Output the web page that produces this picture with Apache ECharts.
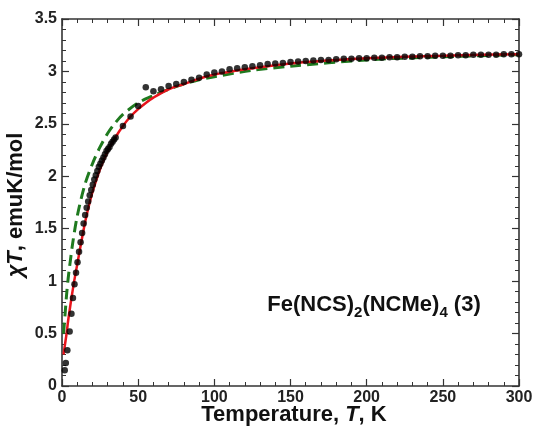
<!DOCTYPE html>
<html>
<head>
<meta charset="utf-8">
<script src="https://cdn.jsdelivr.net/npm/echarts@6/dist/echarts.min.js"></script>
<style>
html,body{margin:0;padding:0;background:#fff;}
#c{width:537px;height:427px;}
</style>
</head>
<body>
<div id="c"></div>
<script>
// Measured data points (Temperature K, chiT emuK/mol)
const dataT = [1.8,2.5,3.5,5,6.2,7.2,8.2,9.2,10.2,11.2,12.2,13.2,14.2,15.2,16.2,17.2,18.2,19.2,20.2,21.2,22.2,23.2,24.2,25.2,26.2,27.2,28.2,29.2,30.2,31.2,32.2,33.2,34.2,35.2,
  40,45,50,55,60,65,70,75,80,85,90,95,100,105,110,115,120,125,130,135,140,145,150,155,160,165,170,175,180,185,190,195,200,205,210,215,220,225,230,235,240,245,250,255,260,265,270,275,280,285,290,295,300];
const dataChiT = [0.15,0.22,0.34,0.52,0.69,0.84,0.97,1.08,1.18,1.28,1.37,1.46,1.55,1.63,1.70,1.76,1.82,1.87,1.92,1.97,2.01,2.05,2.09,2.12,2.15,2.18,2.21,2.24,2.26,2.28,2.31,2.33,2.35,2.37,
  2.48,2.57,2.67,2.85,2.81,2.83,2.86,2.88,2.90,2.92,2.94,2.97,2.99,3.00,3.02,3.03,3.04,3.05,3.06,3.07,3.075,3.08,3.09,3.095,3.10,3.105,3.11,3.11,3.115,3.12,3.12,3.125,3.125,3.13,3.13,3.135,3.135,3.14,3.14,3.145,3.145,3.15,3.15,3.15,3.155,3.155,3.16,3.16,3.16,3.16,3.165,3.165,3.165];

// Red solid fit
const fitRedT =   [1,2,3,4,5,6,8,10,12,15,18,20,25,30,35,40,45,50,55,60,70,80,90,100,120,140,160,180,200,225,250,275,300];
const fitRedChi = [0.30,0.40,0.50,0.62,0.72,0.82,1.00,1.16,1.32,1.55,1.74,1.85,2.07,2.24,2.37,2.48,2.57,2.64,2.70,2.75,2.83,2.88,2.93,2.97,3.02,3.06,3.09,3.11,3.125,3.14,3.15,3.16,3.165];

// Green dashed fit
const fitGreenT =   [1,2,3,4,5,7,10,15,20,25,30,35,40,50,60,70,80,90,100,125,150,200,250,300];
const fitGreenChi = [0.50,0.68,0.87,1.02,1.14,1.36,1.62,1.92,2.12,2.28,2.41,2.51,2.59,2.70,2.77,2.83,2.88,2.92,2.95,3.01,3.05,3.11,3.14,3.16];

const xTicks = {min:0, max:300, interval:50};
const yTicks = {min:0, max:3.5, interval:0.5};

const FONT = "'Liberation Sans', Arial, sans-serif";
const axisColor = '#333';

function zip(a,b){ return a.map((v,i)=>[v,b[i]]); }

const chart = echarts.init(document.getElementById('c'), null, {renderer:'canvas'});

function xAx(pos, showLabel){
  return {
    type:'value', position:pos, min:xTicks.min, max:xTicks.max, interval:xTicks.interval,
    axisLine:{show:true, onZero:false, lineStyle:{color:axisColor, width:1.6}},
    axisTick:{show:true, inside:true, length:7, lineStyle:{color:axisColor, width:1.2}},
    minorTick:{show:true, splitNumber:5, length:4, lineStyle:{color:axisColor, width:1}},
    splitLine:{show:false},
    axisLabel:{show:showLabel, color:'#222', fontFamily:FONT, fontWeight:'bold', fontSize:16, margin:4},
  };
}
function yAx(pos, showLabel){
  return {
    type:'value', position:pos, min:yTicks.min, max:yTicks.max, interval:yTicks.interval,
    axisLine:{show:true, onZero:false, lineStyle:{color:axisColor, width:1.6}},
    axisTick:{show:true, inside:true, length:7, lineStyle:{color:axisColor, width:1.2}},
    minorTick:{show:true, splitNumber:5, length:4, lineStyle:{color:axisColor, width:1}},
    splitLine:{show:false},
    axisLabel:{show:showLabel, color:'#222', fontFamily:FONT, fontWeight:'bold', fontSize:16, margin:5},
  };
}

chart.setOption({
  animation:false,
  backgroundColor:'#fff',
  grid:{left:62, right:18, top:19, bottom:41, containLabel:false},
  xAxis:[xAx('bottom', true), xAx('top', false)],
  yAxis:[yAx('left', true), yAx('right', false)],
  series:[
    {type:'line', xAxisIndex:0, yAxisIndex:0, data:zip(fitGreenT, fitGreenChi), showSymbol:false, smooth:0.3,
     lineStyle:{color:'#1f7a1f', width:3, type:[11,6]}, z:2},
    {type:'line', xAxisIndex:0, yAxisIndex:0, data:zip(fitRedT, fitRedChi), showSymbol:false, smooth:0.3,
     lineStyle:{color:'#e8141c', width:2.5}, z:3},
    {type:'scatter', xAxisIndex:0, yAxisIndex:0, data:zip(dataT, dataChiT), symbol:'circle', symbolSize:6.5,
     itemStyle:{color:'#000'}, z:4}
  ],
  graphic:[
    {type:'text', x:294, y:415, style:{
      text:'{n|Temperature, }{i|T}{n|, K}',
      x:0, y:0, align:'center', verticalAlign:'middle',
      rich:{
        n:{fontFamily:FONT, fontWeight:'bold', fontSize:22, fill:'#111'},
        i:{fontFamily:FONT, fontWeight:'bold', fontStyle:'italic', fontSize:22, fill:'#111'}
      }
    }},
    {type:'text', x:16, y:205, rotation:Math.PI/2, style:{
      text:'{i|χT}{n|, emuK/mol}',
      x:0, y:0, align:'center', verticalAlign:'middle',
      rich:{
        n:{fontFamily:FONT, fontWeight:'bold', fontSize:22, fill:'#111'},
        i:{fontFamily:FONT, fontWeight:'bold', fontStyle:'italic', fontSize:22, fill:'#111'}
      }
    }},
    {type:'text', x:374, y:305, style:{
      text:'{a|Fe(NCS)}{s|2}{a|(NCMe)}{s|4}{a| (3)}',
      x:0, y:0, align:'center', verticalAlign:'middle',
      rich:{
        a:{fontFamily:FONT, fontWeight:'bold', fontSize:22, fill:'#111'},
        s:{fontFamily:FONT, fontWeight:'bold', fontSize:15, fill:'#111', padding:[15,0,0,0]}
      }
    }}
  ]
});
</script>
</body>
</html>
